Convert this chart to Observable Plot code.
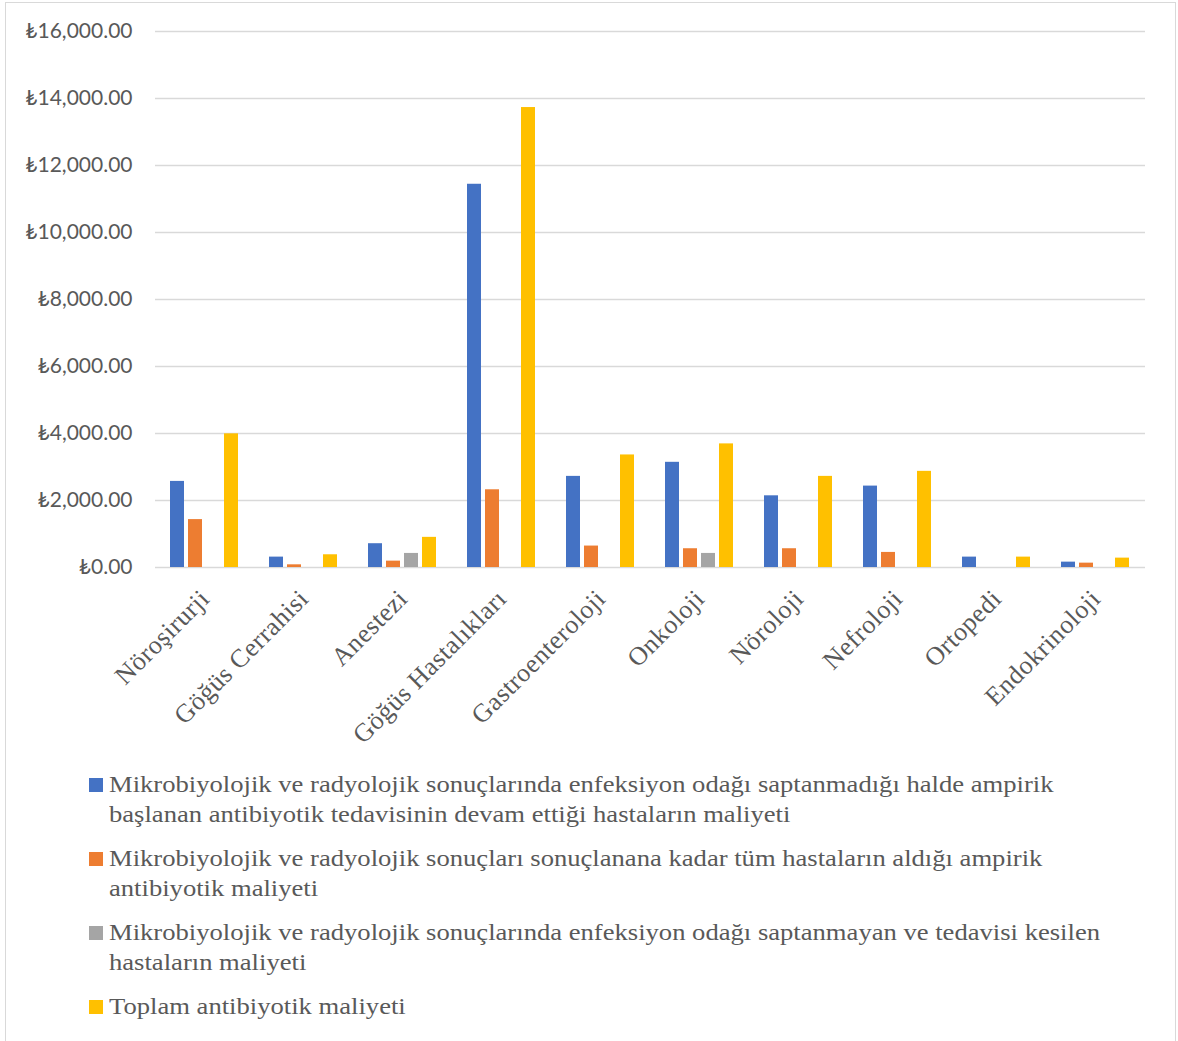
<!DOCTYPE html>
<html>
<head>
<meta charset="utf-8">
<script src="https://cdn.jsdelivr.net/npm/d3@7"></script>
<script src="https://cdn.jsdelivr.net/npm/@observablehq/plot@0.6"></script>
<style>
  html, body { margin: 0; padding: 0; background: #fff; }
  #wrap { position: relative; width: 1178px; height: 1041px; overflow: hidden; }
  #frame { position: absolute; left: 5px; top: 2px; width: 1171px; height: 1100px; border: 1px solid #d9d9d9; box-sizing: border-box; }
  #chart { position: absolute; left: 0; top: 0; }
  #chart g[aria-label="fx-axis tick label"] { letter-spacing: 0.5px; }
  #legend { position: absolute; left: 89px; top: 770px; font-family: "Liberation Serif", "Times New Roman", serif; font-size: 23px; line-height: 30px; color: #595959; }
  .item { display: flex; align-items: flex-start; margin-bottom: 14px; }
  .sw { width: 14px; height: 14px; flex: none; margin-top: 8px; margin-right: 6px; }
  .lab { white-space: pre; transform: scaleX(1.157); transform-origin: 0 0; }
</style>
</head>
<body>
<div id="wrap">
  <div id="frame"></div>
  <div id="chart"></div>
  <div id="legend"></div>
</div>
<script>
const categories = ["Nöroşirurji", "Göğüs Cerrahisi", "Anestezi", "Göğüs Hastalıkları", "Gastroenteroloji", "Onkoloji", "Nöroloji", "Nefroloji", "Ortopedi", "Endokrinoloji"];
const seriesNames = [
  "Mikrobiyolojik ve radyolojik sonuçlarında enfeksiyon odağı saptanmadığı halde ampirik\nbaşlanan antibiyotik tedavisinin devam ettiği hastaların maliyeti",
  "Mikrobiyolojik ve radyolojik sonuçları sonuçlanana kadar tüm hastaların aldığı ampirik\nantibiyotik maliyeti",
  "Mikrobiyolojik ve radyolojik sonuçlarında enfeksiyon odağı saptanmayan ve tedavisi kesilen\nhastaların maliyeti",
  "Toplam antibiyotik maliyeti"
];
const seriesColors = ["#4472C4", "#ED7D31", "#A5A5A5", "#FFC000"];
const devamEden = [2570, 310, 710, 11440, 2720, 3140, 2140, 2430, 310, 160];
const ampirik   = [1430, 80, 190, 2320, 640, 560, 560, 450, null, 130];
const kesilen   = [null, null, 420, null, null, 420, null, null, null, null];
const toplam    = [3990, 380, 900, 13730, 3360, 3690, 2720, 2870, 310, 280];
const yTicks = [0, 2000, 4000, 6000, 8000, 10000, 12000, 14000, 16000];

const seriesValues = [devamEden, ampirik, kesilen, toplam];
const data = [];
categories.forEach((c, i) => {
  seriesNames.forEach((s, j) => {
    const v = seriesValues[j][i];
    if (v != null) data.push({category: c, series: s, value: v});
  });
});

const fmt = d => "₺" + d3.format(",.2f")(d);

const chart = Plot.plot({
  width: 1178,
  height: 765,
  marginTop: 31,
  marginBottom: 198,
  marginLeft: 155,
  marginRight: 33,
  style: {background: "transparent", color: "#595959"},
  fx: {domain: categories, paddingInner: 0, paddingOuter: 0, label: null},
  x: {domain: seriesNames, paddingInner: 0.222, paddingOuter: 0.861, axis: null},
  y: {domain: [0, 16000], label: null},
  color: {domain: seriesNames, range: seriesColors},
  marks: [
    Plot.gridY(yTicks, {stroke: "#d9d9d9", strokeOpacity: 1, strokeWidth: 1.5}),
    Plot.barY(data, {fx: "category", x: "series", y: "value", fill: "series"}),
    Plot.axisY(yTicks, {tickSize: 0, tickPadding: 23, tickFormat: fmt, fontSize: 21, fontFamily: "Lato, 'DejaVu Sans', sans-serif", fill: "#595959", label: null}),
    Plot.axisFx({anchor: "bottom", tickSize: 0, tickPadding: 27, tickRotate: -45, fontSize: 26, fontFamily: "'Liberation Serif', serif", fill: "#595959", label: null})
  ]
});
document.getElementById("chart").appendChild(chart);

const legend = d3.select("#legend");
seriesNames.forEach((s, j) => {
  const it = legend.append("div").attr("class", "item");
  it.append("div").attr("class", "sw").style("background", seriesColors[j]);
  it.append("div").attr("class", "lab").text(s);
});
</script>
</body>
</html>
